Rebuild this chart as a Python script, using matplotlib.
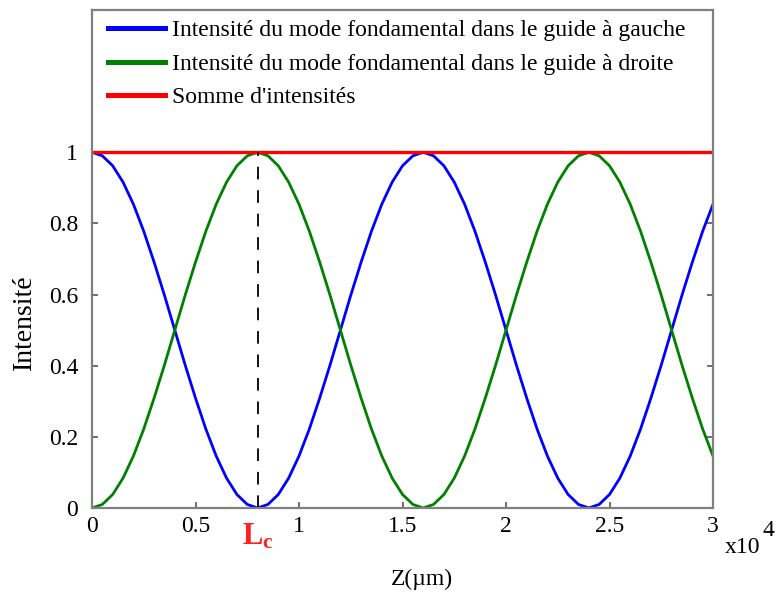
import matplotlib.pyplot as plt

plt.rcParams['font.family'] = ['Liberation Serif', 'DejaVu Serif']
plt.rcParams['mathtext.fontset'] = 'custom'
plt.rcParams['mathtext.rm'] = 'Liberation Serif'
plt.rcParams['mathtext.it'] = 'Liberation Serif:italic'
plt.rcParams['mathtext.bf'] = 'Liberation Serif:bold'

# Propagation distance (um), sampled every 500 um
z_um = [i * 500 for i in range(61)]

# Intensity: left guide (blue)
I_left = [1.000, 0.990, 0.962, 0.916, 0.854, 0.778, 0.691, 0.598, 0.500,
          0.402, 0.309, 0.222, 0.146, 0.084, 0.038, 0.010, 0.000,
          0.010, 0.038, 0.084, 0.146, 0.222, 0.309, 0.402, 0.500,
          0.598, 0.691, 0.778, 0.854, 0.916, 0.962, 0.990, 1.000,
          0.990, 0.962, 0.916, 0.854, 0.778, 0.691, 0.598, 0.500,
          0.402, 0.309, 0.222, 0.146, 0.084, 0.038, 0.010, 0.000,
          0.010, 0.038, 0.084, 0.146, 0.222, 0.309, 0.402, 0.500,
          0.598, 0.691, 0.778, 0.854]

# Right guide (green)
I_right = [0.000, 0.010, 0.038, 0.084, 0.146, 0.222, 0.309, 0.402, 0.500,
           0.598, 0.691, 0.778, 0.854, 0.916, 0.962, 0.990, 1.000,
           0.990, 0.962, 0.916, 0.854, 0.778, 0.691, 0.598, 0.500,
           0.402, 0.309, 0.222, 0.146, 0.084, 0.038, 0.010, 0.000,
           0.010, 0.038, 0.084, 0.146, 0.222, 0.309, 0.402, 0.500,
           0.598, 0.691, 0.778, 0.854, 0.916, 0.962, 0.990, 1.000,
           0.990, 0.962, 0.916, 0.854, 0.778, 0.691, 0.598, 0.500,
           0.402, 0.309, 0.222, 0.146]

# Sum of intensities (red)
z_sum = [0, 30000]
I_sum = [1.0, 1.0]

Lc = 8000

xticks = [0, 5000, 10000, 15000, 20000, 25000, 30000]
xtick_labels = ['0', '0.5', '1', '1.5', '2', '2.5', '3']
yticks = [0, 0.2, 0.4, 0.6, 0.8, 1]
ytick_labels = ['0', '0.2', '0.4', '0.6', '0.8', '1']

labels = ["Intensité du mode fondamental dans le guide à gauche",
          "Intensité du mode fondamental dans le guide à droite",
          "Somme d'intensités"]

fig = plt.figure(figsize=(7.79, 5.94), dpi=100)
ax = fig.add_axes([0.1181, 0.1448, 0.7972, 0.8384])

ax.plot(z_um, I_left, color='#0000ff', lw=2.0, label=labels[0])
ax.plot(z_um, I_right, color='#008000', lw=2.0, label=labels[1])
ax.plot(z_sum, I_sum, color='#ff0000', lw=2.4, label=labels[2])
ax.plot([Lc, Lc], [0, 1], color='black', lw=1.3, linestyle=(0, (7, 6)))

ax.set_xlim(0, 30000)
ax.set_ylim(0, 1.4)
ax.set_xticks(xticks)
ax.set_xticklabels(xtick_labels)
ax.set_yticks(yticks)
ax.set_yticklabels(ytick_labels)
ax.tick_params(direction='in', length=4, width=1.2, color='#555555',
               labelsize=17, right=True, top=False)
ax.tick_params(axis='y', pad=10)
ax.tick_params(axis='x', pad=6)

for s in ax.spines.values():
    s.set_color('#808080')
    s.set_linewidth(1.6)

# coupling length marker label
ax.text(Lc, -0.04, r'$\mathbf{L_c}$', color='#ff2020', fontsize=22,
        ha='center', va='top')
# axis multiplier
ax.text(1.0193, -0.0904, 'x10', transform=ax.transAxes, fontsize=17,
        ha='left', va='baseline')
ax.text(1.0789, -0.024, '4', transform=ax.transAxes, fontsize=17,
        ha='left', va='top')

ax.set_xlabel('Z(µm)', fontsize=17)
ax.xaxis.set_label_coords(0.531, -0.122)
ax.set_ylabel('Intensité', fontsize=20)
ax.yaxis.set_label_coords(-0.088, 0.373)

leg = ax.legend(loc='upper left', bbox_to_anchor=(0.026, 0.98), frameon=False,
                fontsize=17, handlelength=2.4, handletextpad=0.3,
                labelspacing=0.5, borderaxespad=0, borderpad=0)
for h in leg.get_lines():
    h.set_linewidth(3.6)

fig.savefig('out.png', dpi=100)
